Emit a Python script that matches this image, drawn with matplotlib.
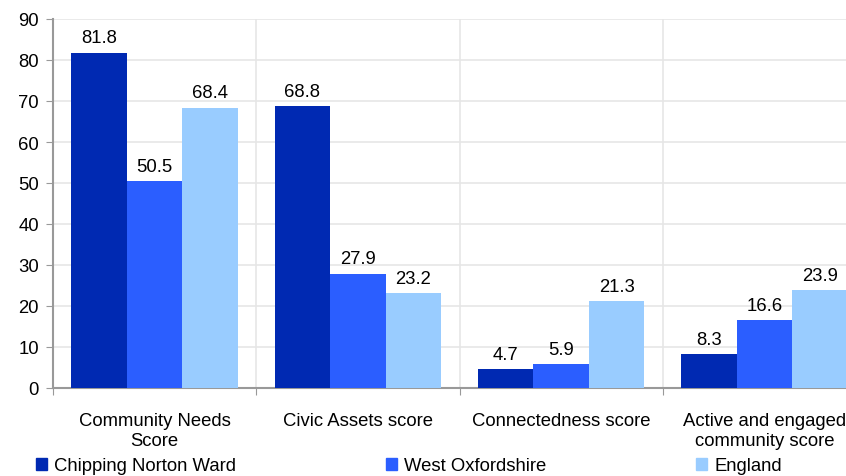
import numpy as np
import matplotlib.pyplot as plt
from matplotlib.patches import Patch

plt.rcParams['font.family'] = ['Liberation Sans', 'DejaVu Sans']

categories = ["Community Needs\nScore", "Civic Assets score", "Connectedness score",
              "Active and engaged\ncommunity score"]
series_names = ["Chipping Norton Ward", "West Oxfordshire", "England"]
chipping = [81.8, 68.8, 4.7, 8.3]
west_ox = [50.5, 27.9, 5.9, 16.6]
england = [68.4, 23.2, 21.3, 23.9]
colors = ['#0029B2', '#2B5EFF', '#99CCFF']

fs = 13.3
fig = plt.figure(figsize=(8.46, 4.77), dpi=100)
ax = fig.add_axes([53/846, 1 - 389/477, 813/846, 369/477])

x = np.arange(len(categories))
w = 0.273
for i, vals in enumerate([chipping, west_ox, england]):
    bars = ax.bar(x + (i - 1) * w, vals, w, color=colors[i], zorder=3)
    for b, v in zip(bars, vals):
        ax.text(b.get_x() + b.get_width() / 2, v + 1.5, f"{v:.1f}",
                ha='center', va='bottom', fontsize=fs, zorder=4)

ax.set_xlim(-0.5, len(categories) - 0.5)
ax.set_ylim(0, 90)
ax.set_yticks(range(0, 91, 10))
ax.set_xticks(np.arange(-0.5, len(categories), 1))
ax.set_xticklabels([])
ax.set_xticks(x, minor=True)
ax.set_xticklabels(categories, minor=True, fontsize=fs, linespacing=1.25)
ax.tick_params(axis='x', which='minor', length=0, pad=17)
ax.tick_params(axis='x', which='major', length=5, color='#999999')
ax.tick_params(axis='y', length=5, color='#999999', labelsize=fs, pad=5)

ax.grid(True, which='major', color='#e6e6e6', linewidth=1.2, zorder=0)
for s in ['top', 'right']:
    ax.spines[s].set_visible(False)
for s in ['left', 'bottom']:
    ax.spines[s].set_color('#999999')
    ax.spines[s].set_linewidth(1.5)

handles = [Patch(color=c) for c in colors]
fpx = fs * 100 / 72
fig.legend(handles, series_names, loc='center left', bbox_to_anchor=(36/846, 1 - 467/477),
           ncol=3, frameon=False, fontsize=fs, handlelength=11/fpx, handleheight=11/fpx,
           handletextpad=7/fpx, columnspacing=150/fpx, borderpad=0, borderaxespad=0)

fig.savefig('out.png', dpi=100)
